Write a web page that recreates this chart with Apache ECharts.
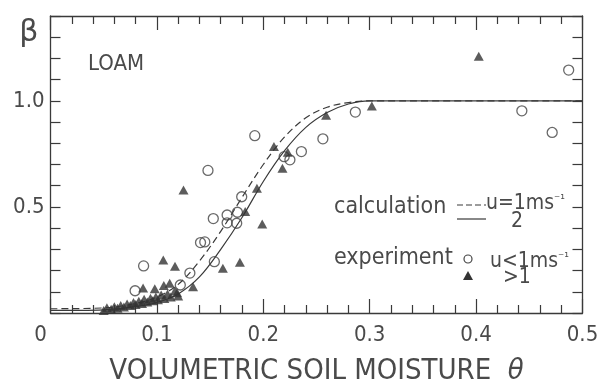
<!DOCTYPE html>
<html>
<head>
<meta charset="utf-8">
<script src="https://cdn.jsdelivr.net/npm/echarts@6/dist/echarts.min.js"></script>
<style>html,body{margin:0;padding:0;background:#fff}#c{width:600px;height:389px}</style>
</head>
<body>
<div id="c"></div>
<script>
// ---- data ----
const curveTheta  = [0, 0.05, 0.08, 0.10, 0.12, 0.14, 0.16, 0.18, 0.20, 0.22, 0.24, 0.26, 0.28, 0.30, 0.50];
const curveDashed = [0.020, 0.024, 0.045, 0.075, 0.135, 0.245, 0.385, 0.545, 0.700, 0.830, 0.920, 0.970, 0.992, 1.0, 1.0];
const curveSolid  = [0.012, 0.015, 0.030, 0.050, 0.090, 0.170, 0.300, 0.450, 0.620, 0.765, 0.875, 0.945, 0.985, 1.0, 1.0];

const circleTheta = [0.0875, 0.0795, 0.122, 0.131, 0.141, 0.145, 0.148, 0.153, 0.154, 0.166, 0.166, 0.175, 0.1757, 0.1797, 0.192, 0.2196, 0.225, 0.2358, 0.256, 0.2865, 0.443, 0.4715, 0.487];
const circleBeta  = [0.222, 0.105, 0.132, 0.188, 0.332, 0.335, 0.672, 0.445, 0.242, 0.462, 0.425, 0.423, 0.475, 0.548, 0.836, 0.737, 0.722, 0.761, 0.821, 0.947, 0.953, 0.851, 1.145];

const triTheta = [0.4025, 0.302, 0.259, 0.210, 0.223, 0.218, 0.194, 0.183, 0.199, 0.125, 0.178, 0.162, 0.106, 0.117, 0.134, 0.087, 0.098, 0.1065, 0.112, 0.119,
                  0.050, 0.053, 0.057, 0.060, 0.063, 0.066, 0.069, 0.072, 0.075, 0.078, 0.080, 0.083, 0.086, 0.088, 0.091, 0.094, 0.096, 0.099, 0.101, 0.104, 0.107, 0.110, 0.113, 0.117, 0.120];
const triBeta  = [1.21, 0.976, 0.932, 0.785, 0.758, 0.682, 0.588, 0.478, 0.42, 0.58, 0.239, 0.211, 0.25, 0.22, 0.124, 0.118, 0.114, 0.13, 0.14, 0.095,
                  0.012, 0.025, 0.018, 0.030, 0.022, 0.035, 0.028, 0.042, 0.035, 0.050, 0.040, 0.055, 0.045, 0.065, 0.052, 0.070, 0.058, 0.075, 0.062, 0.085, 0.068, 0.090, 0.075, 0.105, 0.080];

const xTickLabels = ['0', '0.1', '0.2', '0.3', '0.4', '0.5'];
const yTickLabels = ['0.5', '1.0'];

// ---- chart ----
const INK = '#3a3a3a';
const TXT = '#4a4a4a';
const FONT = "'Liberation Sans Narrow','DejaVu Sans Condensed','Roboto Condensed','Liberation Sans',sans-serif";
const zip = (a, b) => a.map((v, i) => [v, b[i]]);

function xLabel(v) {
  const i = Math.round(v * 10);
  if (Math.abs(v * 10 - i) > 1e-6) return '';
  const s = xTickLabels[i] || '';
  return i === 0 ? '{z|' + s + '}' : s;
}
function yLabel(v) {
  const r = Math.round(v * 10) / 10;
  if (Math.abs(r - 0.5) < 1e-6) return yTickLabels[0];
  if (Math.abs(r - 1.0) < 1e-6) return yTickLabels[1];
  return '';
}

const xBase = {
  type: 'value', min: 0, max: 0.5, interval: 0.1,
  axisLine: { show: true, onZero: false, lineStyle: { color: INK, width: 1.3 } },
  axisTick: { show: true, inside: true, length: 14, lineStyle: { color: INK, width: 1.2 } },
  minorTick: { show: true, splitNumber: 5, length: 8, lineStyle: { color: INK, width: 1.2 } },
  splitLine: { show: false }, minorSplitLine: { show: false }
};
const yBase = {
  type: 'value', min: 0, max: 1.4, interval: 0.1,
  axisLine: { show: true, onZero: false, lineStyle: { color: INK, width: 1.3 } },
  axisTick: { show: true, inside: true, length: 10, lineStyle: { color: INK, width: 1.2 } },
  splitLine: { show: false }
};

const chart = echarts.init(document.getElementById('c'), null, { renderer: 'canvas' });
chart.setOption({
  backgroundColor: '#ffffff',
  animation: false,
  grid: { left: 50.5, right: 17.5, top: 16, bottom: 76, containLabel: false, outerBoundsMode: 'none' },
  xAxis: [
    Object.assign({}, xBase, {
      position: 'bottom',
      name: 'VOLUMETRIC SOIL MOISTURE  {i|θ}',
      nameLocation: 'middle', nameGap: 44,
      nameTextStyle: { fontFamily: FONT, fontSize: 29, color: TXT,
        rich: { i: { fontFamily: FONT, fontStyle: 'italic', fontSize: 29, color: TXT } } },
      axisLabel: { show: true, margin: 11, fontFamily: FONT, fontSize: 22, color: TXT,
        formatter: xLabel, rich: { z: { fontFamily: FONT, fontSize: 22, color: TXT, padding: [0, 20, 0, 0] } } }
    }),
    Object.assign({}, xBase, { position: 'top', axisLabel: { show: false } })
  ],
  yAxis: [
    Object.assign({}, yBase, {
      position: 'left',
      name: 'β', nameLocation: 'end', nameGap: -2,
      nameTextStyle: { fontFamily: "'DejaVu Sans',sans-serif", fontSize: 30, color: TXT, align: 'right', verticalAlign: 'top', padding: [0, 12, 0, 0] },
      axisLabel: { show: true, margin: 6, fontFamily: FONT, fontSize: 22, color: TXT, formatter: yLabel }
    }),
    Object.assign({}, yBase, { position: 'right', axisLabel: { show: false } })
  ],
  series: [
    { name: 'u=1', type: 'line', xAxisIndex: 0, yAxisIndex: 0, data: zip(curveTheta, curveDashed),
      smooth: 0.35, symbol: 'none', lineStyle: { color: INK, width: 1.2, type: [7, 4] }, z: 2 },
    { name: 'u=2', type: 'line', xAxisIndex: 0, yAxisIndex: 0, data: zip(curveTheta, curveSolid),
      smooth: 0.35, symbol: 'none', lineStyle: { color: INK, width: 1.2 }, z: 2 },
    { name: 'u<1', type: 'scatter', data: zip(circleTheta, circleBeta), symbol: 'circle', symbolSize: 10,
      itemStyle: { color: 'rgba(255,255,255,0)', borderColor: '#444', borderWidth: 1.3 }, z: 3 },
    { name: 'u>1', type: 'scatter', data: zip(triTheta, triBeta), symbol: 'triangle', symbolSize: [10, 9],
      itemStyle: { color: '#333' }, z: 4 }
  ],
  graphic: [
    { type: 'text', left: 88, top: 53, style: { text: 'LOAM', font: '22px ' + FONT, fill: TXT } },
    { type: 'text', left: 334, top: 196, style: { text: 'calculation', font: '23px ' + FONT, fill: TXT } },
    { type: 'line', shape: { x1: 457, y1: 205, x2: 486, y2: 205 }, style: { stroke: INK, lineWidth: 1.2, lineDash: [6, 3] } },
    { type: 'line', shape: { x1: 457, y1: 219, x2: 486, y2: 219 }, style: { stroke: INK, lineWidth: 1.2 } },
    { type: 'text', left: 486, top: 193, style: { text: 'u=1ms{s|⁻¹}', font: '21px ' + FONT, fill: TXT,
        rich: { s: { font: '13px ' + FONT, fill: TXT, verticalAlign: 'top', padding: [0, 0, 8, 0] } } } },
    { type: 'text', left: 511, top: 211, style: { text: '2', font: '21px ' + FONT, fill: TXT } },
    { type: 'text', left: 334, top: 247, style: { text: 'experiment', font: '23px ' + FONT, fill: TXT } },
    { type: 'circle', shape: { cx: 468, cy: 259, r: 4 }, style: { fill: 'none', stroke: '#444', lineWidth: 1.2 } },
    { type: 'polygon', shape: { points: [[468, 271], [473, 280], [463, 280]] }, style: { fill: '#333' } },
    { type: 'text', left: 490, top: 251, style: { text: 'u<1ms{s|⁻¹}', font: '21px ' + FONT, fill: TXT,
        rich: { s: { font: '13px ' + FONT, fill: TXT, verticalAlign: 'top', padding: [0, 0, 8, 0] } } } },
    { type: 'text', left: 503, top: 267, style: { text: '>1', font: '21px ' + FONT, fill: TXT } }
  ]
});
</script>
</body>
</html>
